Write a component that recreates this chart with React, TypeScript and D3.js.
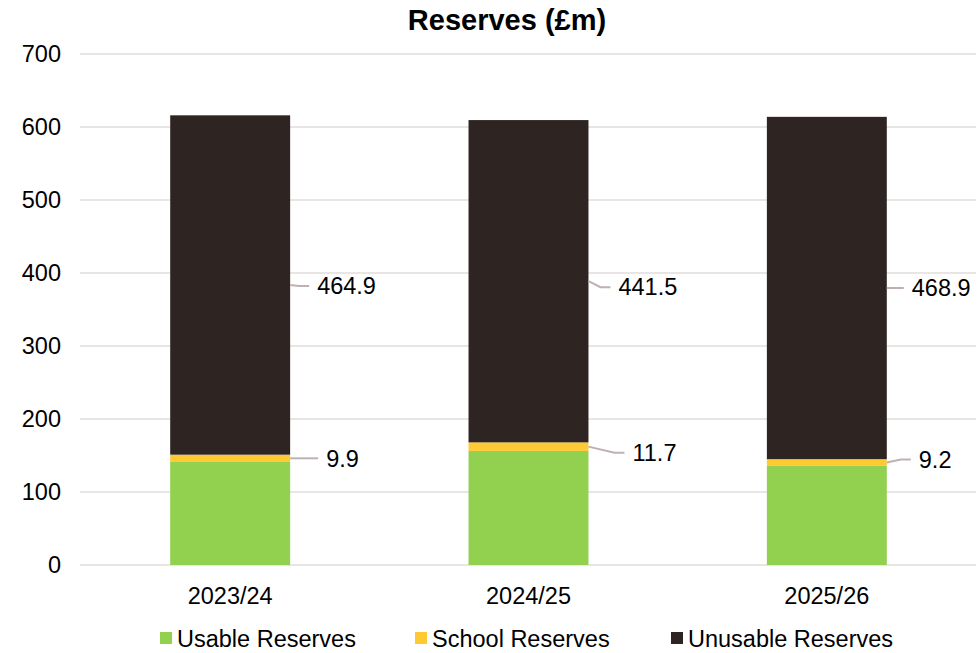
import React from "react";
import * as d3 from "d3";

const categories = ["2023/24", "2024/25", "2025/26"];
const usable = [141.2, 156.3, 135.8];
const school = [9.9, 11.7, 9.2];
const unusable = [464.9, 441.5, 468.9];
const yTicks = [0, 100, 200, 300, 400, 500, 600, 700];
const seriesNames = ["Usable Reserves", "School Reserves", "Unusable Reserves"];

// label placement offsets (pixels) relative to bar right edge / segment middle
const unusableLabelDx = [27, 30, 25];
const unusableLabelDy = [1, 6, 0];
const schoolLabelDx = [36, 44, 32];
const schoolLabelDy = [0, 6, -3];

const COLORS = ["#92D050", "#FFC933", "#2E2422"];
const W = 980;
const H = 653;
const M = { left: 81, right: 976, top: 54, bottom: 565 };
const FONT = "Arial, 'Liberation Sans', sans-serif";

export default function App() {
  const x = d3.scaleBand<string>().domain(categories).range([M.left, M.right]).padding(0);
  const y = d3.scaleLinear().domain([0, 700]).range([M.bottom, M.top]);
  const barW = x.bandwidth() * 0.402;

  const rows = categories.map((c, i) => ({ cat: c, usable: usable[i], school: school[i], unusable: unusable[i] }));
  const stack = d3.stack<any>().keys(["usable", "school", "unusable"])(rows);

  const legendX = [160, 415, 671];

  return (
    <div style={{ position: "absolute", left: 0, top: 0 }}>
      <svg width={W} height={H} style={{ display: "block", background: "#fff" }} fontFamily={FONT}>
        <text x={507} y={30} textAnchor="middle" fontSize={29} fontWeight="bold" fill="#000">
          Reserves (£m)
        </text>
        {yTicks.map((t) => (
          <g key={t}>
            <line x1={M.left - 1} x2={M.right} y1={y(t)} y2={y(t)} stroke="#E2DCDC" strokeWidth={1.5} />
            <text x={61} y={y(t)} dy="0.35em" textAnchor="end" fontSize={23.5} fill="#000">
              {t}
            </text>
          </g>
        ))}
        {stack.map((s, si) => (
          <g key={si} fill={COLORS[si]}>
            {s.map((d, i) => {
              const cx = (x(categories[i]) as number) + x.bandwidth() / 2;
              return (
                <rect key={i} x={cx - barW / 2} width={barW} y={y(d[1])} height={y(d[0]) - y(d[1])} />
              );
            })}
          </g>
        ))}
        {categories.map((c, i) => {
          const cx = (x(c) as number) + x.bandwidth() / 2;
          const right = cx + barW / 2;
          const sS = stack[1][i];
          const sU = stack[2][i];
          const midS = y((sS[0] + sS[1]) / 2);
          const midU = y((sU[0] + sU[1]) / 2);
          const tU = right + unusableLabelDx[i];
          const lyU = midU + unusableLabelDy[i];
          const tS = right + schoolLabelDx[i];
          const lyS = midS + schoolLabelDy[i];
          return (
            <g key={c}>
              <path
                d={`M${right},${midU}L${tU - 18},${lyU}L${tU - 8},${lyU}`}
                fill="none"
                stroke="#BFB1B1"
                strokeWidth={2}
              />
              <text x={tU} y={lyU} dy="0.35em" fontSize={23.5} fill="#000">
                {unusable[i].toFixed(1)}
              </text>
              <path
                d={`M${right},${midS}L${tS - 18},${lyS}L${tS - 8},${lyS}`}
                fill="none"
                stroke="#BFB1B1"
                strokeWidth={2}
              />
              <text x={tS} y={lyS} dy="0.35em" fontSize={23.5} fill="#000">
                {school[i].toFixed(1)}
              </text>
              <text x={cx} y={596} dy="0.35em" textAnchor="middle" fontSize={23.5} fill="#000">
                {c}
              </text>
            </g>
          );
        })}
        {seriesNames.map((n, i) => (
          <g key={n}>
            <rect x={legendX[i]} y={632} width={12} height={12} fill={COLORS[i]} />
            <text x={legendX[i] + 17} y={639} dy="0.35em" fontSize={23.5} fill="#000">
              {n}
            </text>
          </g>
        ))}
      </svg>
    </div>
  );
}
